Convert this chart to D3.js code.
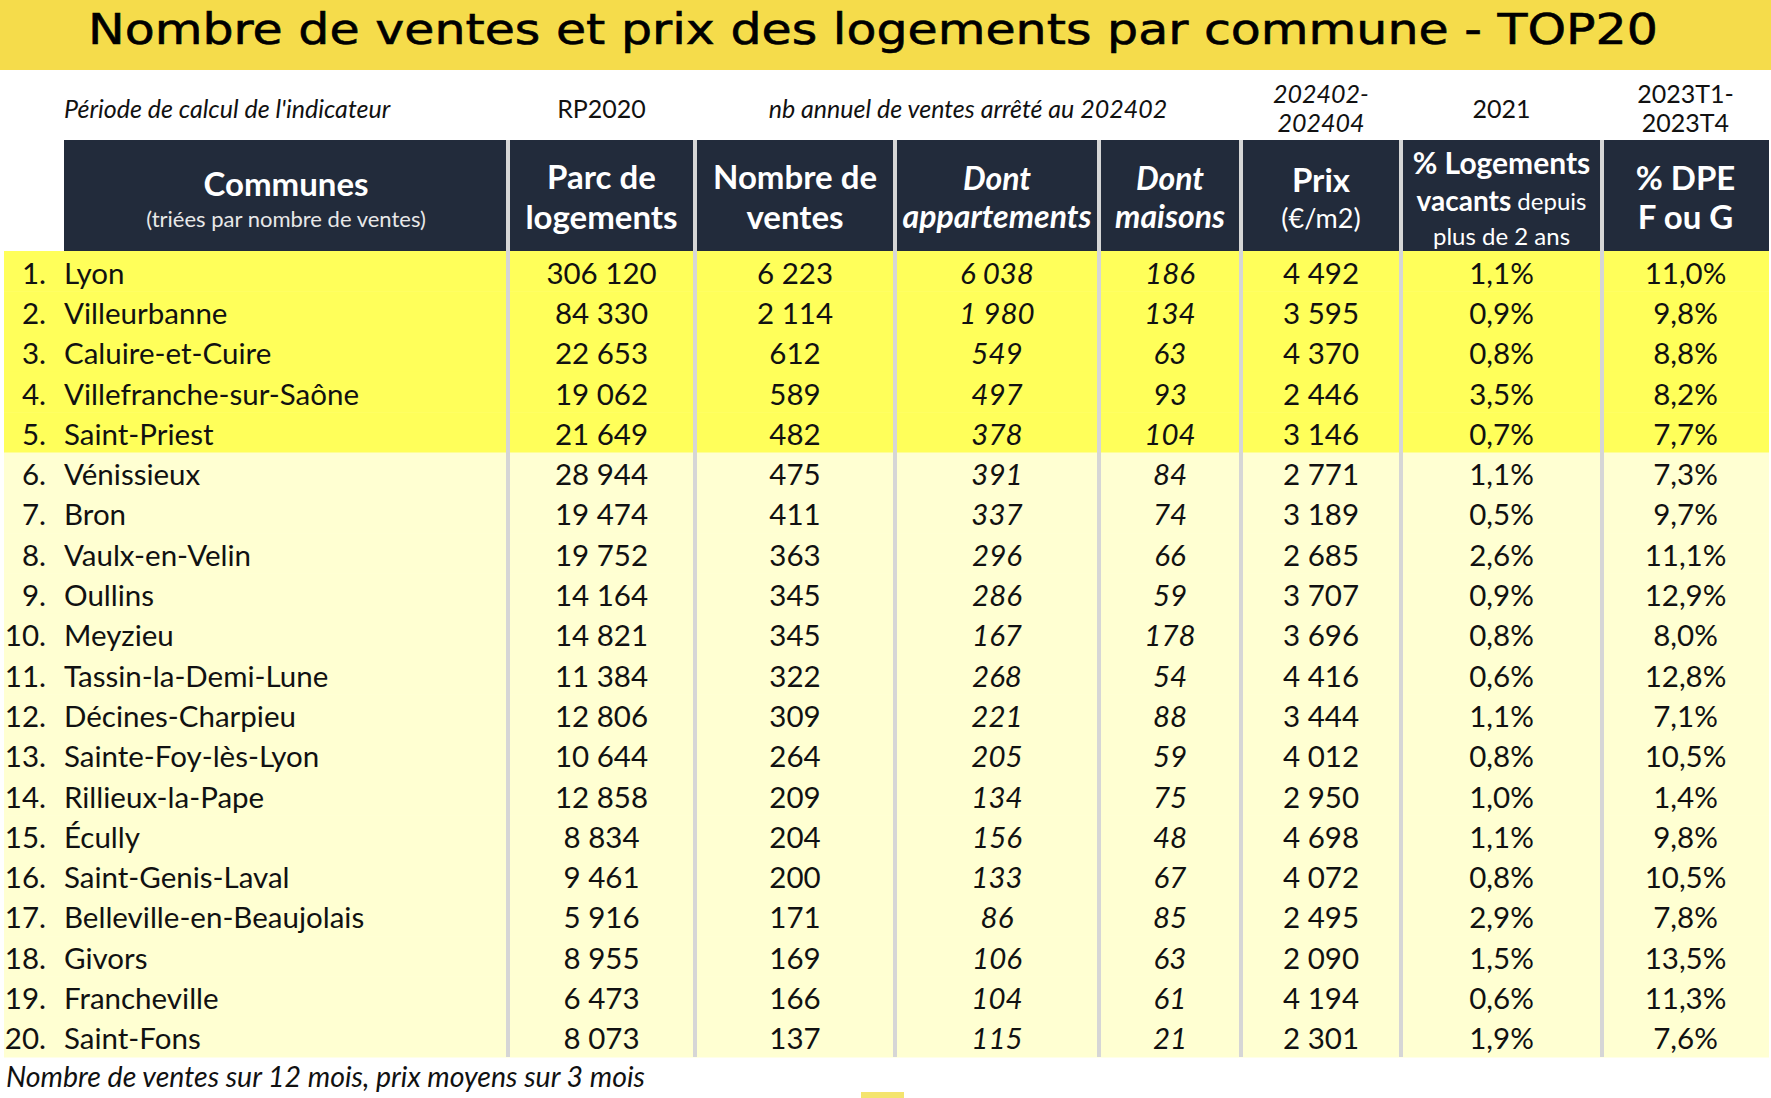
<!DOCTYPE html>
<html>
<head>
<meta charset="utf-8">
<script src="https://cdn.jsdelivr.net/npm/d3@7"></script>
<style>
  html, body { margin: 0; padding: 0; background: #ffffff; }
  svg { display: block; }
</style>
</head>
<body>
<svg id="chart" width="1771" height="1098"></svg>
<script>
// ---------------- DATA ----------------
const titleText = "Nombre de ventes et prix des logements par commune - TOP20";
const footnote = "Nombre de ventes sur 12 mois, prix moyens sur 3 mois";

const communes = ["Lyon","Villeurbanne","Caluire-et-Cuire","Villefranche-sur-Saône","Saint-Priest",
  "Vénissieux","Bron","Vaulx-en-Velin","Oullins","Meyzieu","Tassin-la-Demi-Lune","Décines-Charpieu",
  "Sainte-Foy-lès-Lyon","Rillieux-la-Pape","Écully","Saint-Genis-Laval","Belleville-en-Beaujolais",
  "Givors","Francheville","Saint-Fons"];
const parcLogements = [306120,84330,22653,19062,21649,28944,19474,19752,14164,14821,11384,12806,10644,12858,8834,9461,5916,8955,6473,8073];
const nbVentes = [6223,2114,612,589,482,475,411,363,345,345,322,309,264,209,204,200,171,169,166,137];
const dontAppartements = [6038,1980,549,497,378,391,337,296,286,167,268,221,205,134,156,133,86,106,104,115];
const dontMaisons = [186,134,63,93,104,84,74,66,59,178,54,88,59,75,48,67,85,63,61,21];
const prixM2 = [4492,3595,4370,2446,3146,2771,3189,2685,3707,3696,4416,3444,4012,2950,4698,4072,2495,2090,4194,2301];
const pctVacants = [1.1,0.9,0.8,3.5,0.7,1.1,0.5,2.6,0.9,0.8,0.6,1.1,0.8,1.0,1.1,0.8,2.9,1.5,0.6,1.9];
const pctDPE = [11.0,9.8,8.8,8.2,7.7,7.3,9.7,11.1,12.9,8.0,12.8,7.1,10.5,1.4,9.8,10.5,7.8,13.5,11.3,7.6];
const topCount = 5;

const periodLabels = ["Période de calcul de l'indicateur","RP2020","nb annuel de ventes arrêté au 202402","202402-|202404","2021","2023T1-|2023T4"];

// ---------------- LAYOUT ----------------
const W = 1771, H = 1098;
const colEdges = [64, 508, 695, 895, 1099, 1241, 1401, 1602, 1769];
const bodyLeft = 4;
const headTop = 140, headBottom = 251, bodyBottom = 1057;
const FONT = "Lato, 'Open Sans', sans-serif";

const fr = d3.formatLocale({decimal: ",", thousands: "\u00a0", grouping: [3], currency: ["", " €"]});
const fInt = fr.format(",d");
const fPct = v => fr.format(".1f")(v) + "%";

const rows = communes.map((c, i) => ({
  rank: i + 1, name: c,
  cells: [fInt(parcLogements[i]), fInt(nbVentes[i]), fInt(dontAppartements[i]), fInt(dontMaisons[i]),
          fInt(prixM2[i]), fPct(pctVacants[i]), fPct(pctDPE[i])]
}));
const italicCols = [false, false, true, true, false, false, false];

const svg = d3.select("#chart");

const y = d3.scaleBand().domain(d3.range(1, communes.length + 1)).range([headBottom, bodyBottom]);
const colCenter = k => (colEdges[k] + colEdges[k + 1]) / 2;

// Title band
svg.append("rect").attr("x", 0).attr("y", 0).attr("width", W).attr("height", 70).attr("fill", "#F5DC4B");
svg.append("text").attr("x", 873).attr("y", 29)
  .attr("text-anchor", "middle").attr("dominant-baseline", "central")
  .attr("font-family", "'DejaVu Sans', sans-serif").attr("font-size", 43)
  .attr("fill", "#000").attr("stroke", "#000").attr("stroke-width", 0.6)
  .attr("textLength", 1570).attr("lengthAdjust", "spacingAndGlyphs")
  .text(titleText);

// Period row
const periodG = svg.append("g").attr("font-family", FONT).attr("font-size", 25).attr("fill", "#111");
periodG.append("text").attr("x", 64).attr("y", 108).attr("dominant-baseline", "central")
  .attr("font-style", "italic").text(periodLabels[0]);
periodG.append("text").attr("x", colCenter(1)).attr("y", 108).attr("text-anchor", "middle")
  .attr("dominant-baseline", "central").text(periodLabels[1]);
periodG.append("text").attr("x", (colEdges[2] + colEdges[5]) / 2).attr("y", 108).attr("text-anchor", "middle")
  .attr("dominant-baseline", "central").attr("font-style", "italic").text(periodLabels[2]);
[[5, periodLabels[3], true], [6, periodLabels[4], false], [7, periodLabels[5], false]].forEach(([k, lab, it]) => {
  const parts = lab.split("|");
  parts.forEach((p, j) => {
    const yy = parts.length === 1 ? 108 : (j === 0 ? 93 : 122);
    periodG.append("text").attr("x", colCenter(k)).attr("y", yy).attr("text-anchor", "middle")
      .attr("dominant-baseline", "central").attr("font-style", it ? "italic" : "normal").text(p);
  });
});

// Header
svg.append("rect").attr("x", colEdges[0]).attr("y", headTop)
  .attr("width", colEdges[8] - colEdges[0]).attr("height", headBottom - headTop).attr("fill", "#222B3B");

const headerSpec = [
  [ {t:"Communes", b:true, s:33, y:183}, {t:"(triées par nombre de ventes)", b:false, s:22, y:218, c:"#e8e8e8"} ],
  [ {t:"Parc de", b:true, s:33, y:176}, {t:"logements", b:true, s:33, y:216} ],
  [ {t:"Nombre de", b:true, s:33, y:176}, {t:"ventes", b:true, s:33, y:216} ],
  [ {t:"Dont", b:true, i:true, s:32, y:177}, {t:"appartements", b:true, i:true, s:32, y:215} ],
  [ {t:"Dont", b:true, i:true, s:32, y:177}, {t:"maisons", b:true, i:true, s:32, y:215} ],
  [ {t:"Prix", b:true, s:33, y:179}, {t:"(€/m2)", b:false, s:27, y:217} ],
  [ {t:"% Logements", b:true, s:30, y:162}, {rich:[{t:"vacants", b:true},{t:" depuis", b:false, s:24}], s:28, y:200}, {t:"plus de 2 ans", b:false, s:24, y:235} ],
  [ {t:"% DPE", b:true, s:33, y:177}, {t:"F ou G", b:true, s:33, y:216} ]
];
const headG = svg.append("g").attr("font-family", FONT).attr("fill", "#fff");
headerSpec.forEach((lines, k) => {
  lines.forEach(l => {
    const tx = headG.append("text").attr("x", colCenter(k)).attr("y", l.y)
      .attr("text-anchor", "middle").attr("dominant-baseline", "central")
      .attr("font-size", l.s);
    if (l.rich) {
      l.rich.forEach(r => tx.append("tspan").attr("font-weight", r.b ? 700 : 400)
        .attr("font-size", r.s || l.s).text(r.t));
    } else {
      tx.attr("font-weight", l.b ? 700 : 400).attr("font-style", l.i ? "italic" : "normal")
        .attr("fill", l.c || "#fff").text(l.t);
    }
  });
});

// Body backgrounds
svg.append("g").selectAll("rect").data(rows).join("rect")
  .attr("x", bodyLeft).attr("y", d => y(d.rank))
  .attr("width", colEdges[8] - bodyLeft).attr("height", y.bandwidth() + 0.5)
  .attr("fill", d => d.rank <= topCount ? "#FFFF5A" : "#FFFFD2");

// Column separators
svg.append("g").selectAll("rect").data(colEdges.slice(1, 8)).join("rect")
  .attr("x", d => d - 2).attr("y", headTop).attr("width", 4).attr("height", bodyBottom - headTop)
  .attr("fill", "#D6D6D6");

// Body text
const bodyG = svg.append("g").attr("font-family", FONT).attr("font-size", 29.5).attr("fill", "#111");
const rowG = bodyG.selectAll("g").data(rows).join("g")
  .attr("transform", d => `translate(0,${y(d.rank) + y.bandwidth() / 2 + 1})`);
rowG.append("text").attr("x", 46).attr("text-anchor", "end").attr("dominant-baseline", "central")
  .text(d => d.rank + ".");
rowG.append("text").attr("x", 64).attr("dominant-baseline", "central").text(d => d.name);
rowG.selectAll("text.v").data(d => d.cells).join("text").attr("class", "v")
  .attr("x", (d, k) => colCenter(k + 1)).attr("text-anchor", "middle").attr("dominant-baseline", "central")
  .attr("font-style", (d, k) => italicCols[k] ? "italic" : "normal")
  .text(d => d);

// Footnote
svg.append("text").attr("x", 6).attr("y", 1076).attr("dominant-baseline", "central")
  .attr("font-family", FONT).attr("font-size", 28.5).attr("font-style", "italic").attr("fill", "#111")
  .text(footnote);

// small yellow mark at bottom
svg.append("rect").attr("x", 861).attr("y", 1092).attr("width", 43).attr("height", 6).attr("fill", "#F4E46E");
</script>
</body>
</html>
